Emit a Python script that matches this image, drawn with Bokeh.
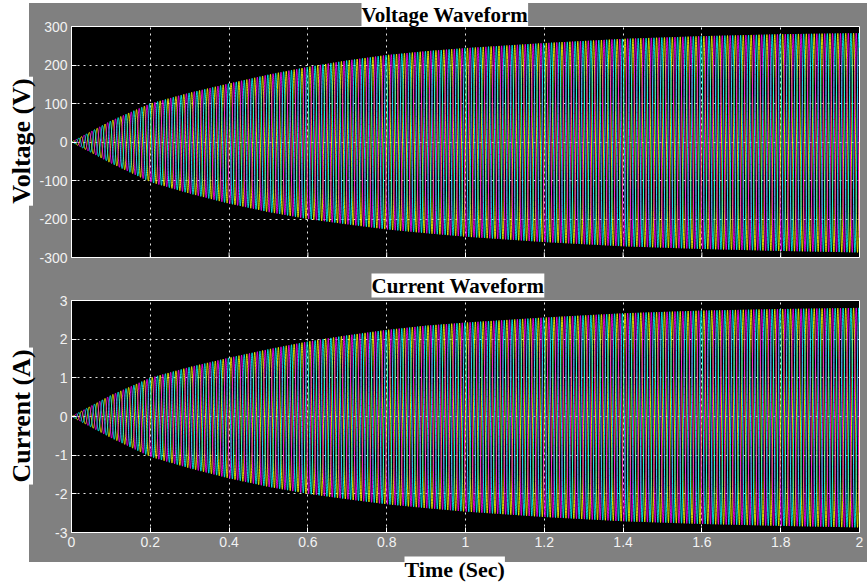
import numpy as np
from bokeh.plotting import figure
from bokeh.models import Title, FixedTicker, Range1d, Div
from bokeh.layouts import column, row
from bokeh.embed import file_html
from bokeh.resources import INLINE

# ---- data ----
env_t = [0, 0.1, 0.2, 0.3, 0.4, 0.5, 0.6, 0.7, 0.8, 0.9, 1.0, 1.2, 1.4, 1.6, 1.8, 2.0]
voltage_env_upper = [0, 55, 100, 128, 152, 175, 195, 212, 226, 236, 244, 257, 268, 275, 280, 283]
voltage_env_lower = [0, 55, 104, 134, 160, 182, 200, 214, 227, 237, 246, 260, 271, 278, 283, 287]
current_env_upper = [0, 0.55, 1.00, 1.28, 1.52, 1.74, 1.94, 2.10, 2.24, 2.35, 2.43, 2.56, 2.67, 2.74, 2.78, 2.81]
current_env_lower = [0, 0.55, 1.04, 1.34, 1.60, 1.82, 2.00, 2.14, 2.27, 2.37, 2.46, 2.60, 2.71, 2.78, 2.83, 2.87]
supply_freq_hz = 50
phase_shift_deg = [0, -120, 120]
phase_colors = ["#ffff00", "#ff00ff", "#00ffff"]

time_ticks = [0, 0.2, 0.4, 0.6, 0.8, 1.0, 1.2, 1.4, 1.6, 1.8, 2.0]
time_tick_labels = ["0", "0.2", "0.4", "0.6", "0.8", "1", "1.2", "1.4", "1.6", "1.8", "2"]
voltage_ticks = [-300, -200, -100, 0, 100, 200, 300]
voltage_tick_labels = ["-300", "-200", "-100", "0", "100", "200", "300"]
current_ticks = [-3, -2, -1, 0, 1, 2, 3]
current_tick_labels = ["-3", "-2", "-1", "0", "1", "2", "3"]

GREY = "#808080"
t = np.linspace(0, 2, 8001)


def phase_wave(upper, lower, shift):
    s = np.sin(2 * np.pi * supply_freq_hz * t + np.deg2rad(shift))
    up = np.interp(t, env_t, upper)
    lo = np.interp(t, env_t, lower)
    return np.where(s >= 0, s * up, s * lo)


def serif_title(text, size, standoff=0, offset=0):
    return Title(text=text, align="left", text_font="Liberation Serif",
                 text_font_style="bold", text_font_size=size, text_color="black",
                 background_fill_color="white", standoff=standoff, offset=offset)


def make_panel(height, top, bottom, yr, yticks, ylabels, title, tstand, toff, show_x):
    p = figure(width=838, height=height, x_range=Range1d(0, 2), y_range=Range1d(*yr),
               output_backend="svg", toolbar_location=None,
               min_border_left=42, min_border_right=8,
               min_border_top=top, min_border_bottom=bottom,
               background_fill_color="black", border_fill_alpha=0,
               outline_line_color="white", outline_line_width=1)
    for ax, ticks in ((p.xaxis, time_ticks), (p.yaxis, yticks)):
        ax.ticker = FixedTicker(ticks=ticks)
        ax.axis_line_color = "white"
        ax.major_tick_line_color = "white"
        ax.major_tick_in = 5
        ax.major_tick_out = 0
        ax.minor_tick_line_color = None
        ax.major_label_text_color = "#f2f2f2"
        ax.major_label_text_font = "Liberation Sans"
        ax.major_label_text_font_size = "14px"
    p.yaxis.major_label_overrides = {v: s for v, s in zip(yticks, ylabels)}
    p.yaxis.major_label_standoff = 4
    if show_x:
        p.xaxis.major_label_overrides = {v: s for v, s in zip(time_ticks, time_tick_labels)}
        p.xaxis.major_label_standoff = 4
    else:
        p.xaxis.visible = False
        p.segment(x0=time_ticks, y0=[yr[0]] * len(time_ticks),
                  x1=time_ticks, y1=[yr[0] + (yr[1] - yr[0]) * 0.022] * len(time_ticks),
                  line_color="white", line_width=1)
    p.grid.grid_line_color = "white"
    p.grid.grid_line_dash = "2 4"
    p.grid.grid_line_alpha = 0.9
    p.add_layout(serif_title(title, "21px", tstand, toff), "above")
    return p


p1 = make_panel(268, 25, 11, (-300, 300), voltage_ticks, voltage_tick_labels,
                "Voltage Waveform", 0, 290, False)
p2 = make_panel(318, 32, 54, (-3, 3), current_ticks, current_tick_labels,
                "Current Waveform", 6, 300, True)
p2.add_layout(serif_title("Time (Sec)", "22px", 10, 333), "below")

for sh, col in zip(phase_shift_deg, phase_colors):
    p1.line(t, phase_wave(voltage_env_upper, voltage_env_lower, sh), line_color=col, line_width=0.85)
    p2.line(t, phase_wave(current_env_upper, current_env_lower, sh), line_color=col, line_width=0.85)

LBL = ("position:absolute; left:22px; top:{top}px; transform:translate(-50%,-50%) rotate(-90deg);"
       "white-space:nowrap; font-family:'Liberation Serif'; font-weight:bold; font-size:26px;"
       "line-height:22px; background:white; color:black; padding:0 2px; z-index:10;")
ylabels_div = Div(
    width=29, height=586, margin=0,
    text=(f'<div style="{LBL.format(top=141)}">Voltage (V)</div>'
          f'<div style="{LBL.format(top=416)}">Current (A)</div>'),
    styles={"background-color": "white", "position": "relative", "overflow": "visible",
            "z-index": "5"},
)

plots = column(p1, p2, spacing=0, styles={
    "background-color": GREY,
    "background-image": ("linear-gradient(to bottom, white 3px, transparent 3px, "
                         "transparent 562px, white 562px)"),
})
layout = row(ylabels_div, plots, spacing=0)
open("out.html", "w").write(file_html(layout, INLINE))
